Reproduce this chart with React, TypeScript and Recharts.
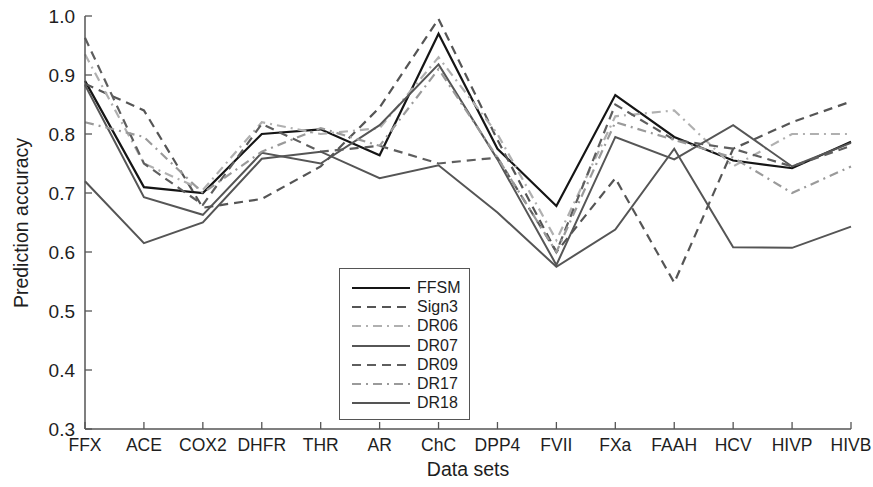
import React from 'react';
import { LineChart, Line, XAxis, YAxis } from 'recharts';

const categories = ['FFX', 'ACE', 'COX2', 'DHFR', 'THR', 'AR', 'ChC', 'DPP4', 'FVII', 'FXa', 'FAAH', 'HCV', 'HIVP', 'HIVB'];

const ffsm = [0.89, 0.71, 0.7, 0.8, 0.808, 0.764, 0.97, 0.775, 0.678, 0.866, 0.795, 0.755, 0.742, 0.787];
const sign3 = [0.885, 0.84, 0.675, 0.69, 0.745, 0.845, 0.995, 0.79, 0.6, 0.725, 0.548, 0.775, 0.82, 0.855];
const dr06 = [0.935, 0.75, 0.705, 0.82, 0.8, 0.81, 0.93, 0.8, 0.62, 0.83, 0.84, 0.745, 0.8, 0.8];
const dr07 = [0.883, 0.693, 0.663, 0.768, 0.75, 0.815, 0.918, 0.757, 0.578, 0.795, 0.757, 0.815, 0.745, 0.785];
const dr09 = [0.963, 0.75, 0.68, 0.817, 0.77, 0.78, 0.75, 0.76, 0.6, 0.85, 0.79, 0.775, 0.745, 0.78];
const dr17 = [0.82, 0.795, 0.7, 0.77, 0.81, 0.78, 0.91, 0.76, 0.6, 0.82, 0.79, 0.76, 0.7, 0.745];
const dr18 = [0.72, 0.615, 0.65, 0.758, 0.77, 0.725, 0.747, 0.667, 0.575, 0.638, 0.775, 0.608, 0.607, 0.643];

const yTicks = [0.3, 0.4, 0.5, 0.6, 0.7, 0.8, 0.9, 1.0];

const series = [
  { key: 'FFSM', values: ffsm, color: '#151515', dash: undefined as string | undefined, width: 2.2 },
  { key: 'Sign3', values: sign3, color: '#555555', dash: '9 6', width: 2.2 },
  { key: 'DR06', values: dr06, color: '#b0b0b0', dash: '9 5 2 5', width: 2.2 },
  { key: 'DR07', values: dr07, color: '#565656', dash: undefined, width: 2 },
  { key: 'DR09', values: dr09, color: '#5e5e5e', dash: '9 6', width: 2.2 },
  { key: 'DR17', values: dr17, color: '#9a9a9a', dash: '9 5 2 5', width: 2.2 },
  { key: 'DR18', values: dr18, color: '#555555', dash: undefined, width: 2 },
];

const data = categories.map((name, i) => {
  const row: Record<string, string | number> = { name };
  series.forEach((s) => {
    row[s.key] = s.values[i];
  });
  return row;
});

const AXIS = '#555';
const TXT = '#1e1e1e';
const FONT = '"Liberation Sans", Arial, Helvetica, sans-serif';
const TL = 7;

const BottomTick = (p: any) => (
  <g>
    <line x1={p.x} y1={p.y} x2={p.x} y2={p.y - TL} stroke={AXIS} strokeWidth={1.3} />
    <text x={p.x} y={p.y + 22} textAnchor="middle" fontSize={17.5} fill={TXT} fontFamily={FONT}>
      {p.payload.value}
    </text>
  </g>
);
const TopTick = (p: any) => (
  <line x1={p.x} y1={p.y} x2={p.x} y2={p.y + TL} stroke={AXIS} strokeWidth={1.3} />
);
const LeftTick = (p: any) => (
  <g>
    <line x1={p.x} y1={p.y} x2={p.x + TL} y2={p.y} stroke={AXIS} strokeWidth={1.3} />
    <text x={p.x - 10} y={p.y + 7} textAnchor="end" fontSize={19} fill={TXT} fontFamily={FONT}>
      {Number(p.payload.value).toFixed(1)}
    </text>
  </g>
);
const RightTick = (p: any) => (
  <line x1={p.x} y1={p.y} x2={p.x - TL} y2={p.y} stroke={AXIS} strokeWidth={1.3} />
);

const LegendBox = () => (
  <div
    style={{
      position: 'absolute',
      left: 339,
      top: 268,
      width: 131,
      height: 152,
      border: '1.5px solid #555',
      background: '#fff',
      padding: '9px 0 0 12px',
      fontFamily: FONT,
      fontSize: 16,
      color: TXT,
      boxSizing: 'border-box',
    }}
  >
    {series.map((s) => (
      <div key={s.key} style={{ display: 'flex', alignItems: 'center', height: 19.3 }}>
        <svg width={58} height={10} style={{ marginRight: 7, flex: 'none' }}>
          <line x1={0} y1={5} x2={58} y2={5} stroke={s.color} strokeWidth={s.width} strokeDasharray={s.dash} />
        </svg>
        <span>{s.key}</span>
      </div>
    ))}
  </div>
);

export default function App() {
  return (
    <div style={{ position: 'relative', width: 873, height: 487, background: '#fff' }}>
      <style>{`body{margin:0;overflow:hidden;background:#fff}`}</style>
      <LineChart
        width={873}
        height={487}
        data={data}
        margin={{ top: 16, right: 22, bottom: 0, left: 0 }}
      >
        <XAxis
          dataKey="name"
          scale="point"
          padding={{ left: 0, right: 0 }}
          height={58}
          tickSize={0}
          tickMargin={0}
          interval={0}
          axisLine={{ stroke: AXIS, strokeWidth: 1.5 }}
          tickLine={false}
          tick={<BottomTick />}
        />
        <XAxis
          xAxisId="top"
          dataKey="name"
          orientation="top"
          scale="point"
          padding={{ left: 0, right: 0 }}
          height={0}
          tickSize={0}
          tickMargin={0}
          interval={0}
          axisLine={{ stroke: AXIS, strokeWidth: 1.5 }}
          tickLine={false}
          tick={<TopTick />}
        />
        <YAxis
          domain={[0.3, 1.0]}
          ticks={yTicks}
          type="number"
          width={85}
          tickSize={0}
          tickMargin={0}
          interval={0}
          axisLine={{ stroke: AXIS, strokeWidth: 1.5 }}
          tickLine={false}
          tick={<LeftTick />}
        />
        <YAxis
          yAxisId="right"
          orientation="right"
          domain={[0.3, 1.0]}
          ticks={yTicks}
          type="number"
          width={0}
          tickSize={0}
          tickMargin={0}
          interval={0}
          axisLine={{ stroke: AXIS, strokeWidth: 1.5 }}
          tickLine={false}
          tick={<RightTick />}
        />
        {series.map((s) => (
          <Line
            key={s.key}
            dataKey={s.key}
            type="linear"
            stroke={s.color}
            strokeWidth={s.width}
            strokeDasharray={s.dash}
            dot={false}
            activeDot={false}
            isAnimationActive={false}
          />
        ))}
      </LineChart>
      <LegendBox />
      <div
        style={{
          position: 'absolute',
          left: 468,
          top: 458,
          transform: 'translateX(-50%)',
          whiteSpace: 'nowrap',
          fontFamily: FONT,
          fontSize: 19.5,
          color: TXT,
          pointerEvents: 'none',
        }}
      >
        Data sets
      </div>
      <div
        style={{
          position: 'absolute',
          left: 21,
          top: 223,
          transform: 'translate(-50%, -50%) rotate(-90deg)',
          fontFamily: FONT,
          fontSize: 19.5,
          color: TXT,
          whiteSpace: 'nowrap',
          pointerEvents: 'none',
        }}
      >
        Prediction accuracy
      </div>
    </div>
  );
}
